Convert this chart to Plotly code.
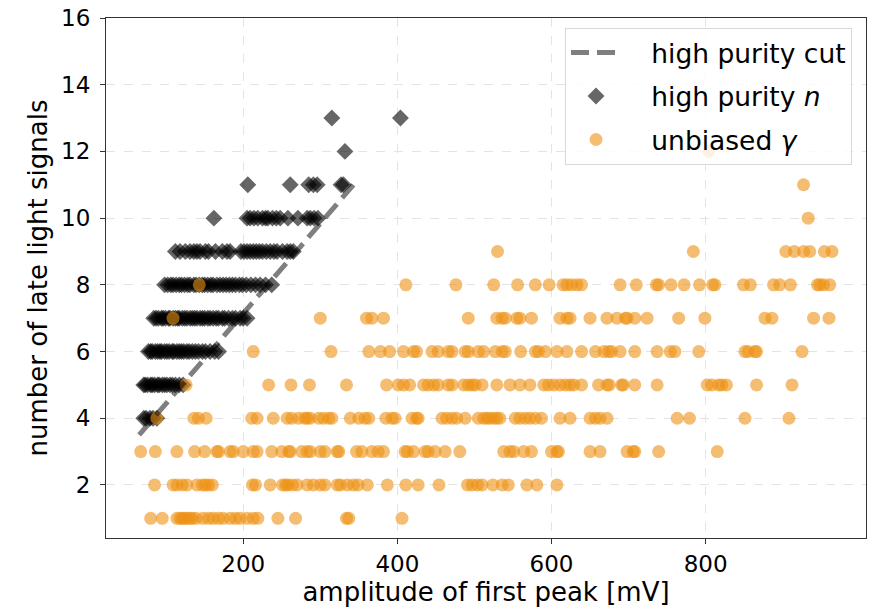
import plotly.graph_objects as go

# Unbiased gamma events: amplitude of first peak [mV], grouped by number of late light signals
gamma_n1 = [80, 95, 114, 118, 121, 124, 127, 131, 134, 139, 148, 155, 161, 168, 174, 183, 190, 196,
            205, 213, 219, 245, 268, 334, 337, 406]
gamma_n2 = [85, 109, 114, 121, 127, 140, 147, 151, 155, 160, 212, 216, 235, 251, 255, 258, 264, 270,
            283, 291, 300, 306, 322, 326, 335, 343, 349, 361, 387, 411, 427, 454, 491, 497, 504, 510,
            524, 536, 544, 568, 581, 607]
gamma_n3 = [67, 86, 114, 137, 150, 166, 168, 183, 187, 200, 213, 218, 237, 250, 259, 261, 276, 283,
            287, 300, 306, 322, 324, 347, 354, 367, 375, 382, 410, 413, 421, 436, 440, 449, 462, 481,
            538, 546, 551, 564, 574, 600, 607, 609, 650, 663, 698, 706, 708, 739, 815]
gamma_n4 = [88, 136, 142, 152, 211, 218, 239, 257, 263, 272, 280, 283, 287, 298, 304, 311, 315, 339,
            350, 358, 363, 385, 393, 397, 419, 425, 427, 458, 464, 471, 477, 488, 505, 512, 516, 520,
            525, 529, 533, 553, 559, 566, 572, 579, 587, 611, 624, 650, 657, 663, 672, 763, 779, 851, 908]
gamma_n5 = [126, 233, 262, 286, 334, 386, 401, 408, 416, 434, 440, 447, 453, 466, 471, 486, 492, 497,
            501, 510, 529, 546, 559, 572, 590, 596, 603, 611, 618, 624, 629, 639, 661, 672, 675, 691,
            693, 708, 737, 802, 808, 817, 821, 827, 866, 912]
gamma_n6 = [213, 314, 363, 378, 390, 408, 421, 425, 445, 453, 466, 471, 488, 492, 505, 512, 527, 536,
            540, 560, 579, 583, 592, 607, 620, 639, 657, 668, 674, 678, 689, 708, 737, 754, 760, 791,
            851, 855, 864, 866, 925]
gamma_n7 = [109, 300, 360, 367, 382, 492, 529, 536, 540, 555, 559, 574, 611, 620, 624, 650, 672, 685,
            696, 698, 708, 724, 765, 799, 877, 886, 940, 960]
gamma_n8 = [143, 411, 476, 525, 556, 579, 597, 615, 620, 626, 633, 639, 689, 710, 736, 739, 755, 772,
            792, 809, 812, 849, 858, 888, 896, 910, 945, 948, 953, 961]
gamma_n9 = [530, 784, 904, 915, 927, 935, 954, 964]
gamma_n10 = [933]
gamma_n11 = [927]
gamma_n12 = [804]

# High purity neutron events
neutron_n4 = [71, 74, 79, 83, 88]
neutron_n5 = [71, 73, 76, 80, 82, 85, 89, 91, 95, 98, 101, 105, 108, 112, 117, 122]
neutron_n6 = [77, 80, 82, 86, 89, 92, 94, 98, 101, 104, 108, 110, 114, 117, 120, 123, 127, 130, 134,
              138, 142, 147, 151, 157, 163, 168]
neutron_n7 = [84, 87, 90, 94, 96, 99, 103, 105, 109, 112, 115, 117, 121, 124, 127, 131, 134, 137, 140,
              144, 147, 150, 154, 157, 161, 165, 168, 173, 176, 181, 186, 190, 196, 200, 205]
neutron_n8 = [98, 102, 106, 109, 113, 117, 120, 124, 128, 131, 136, 139, 143, 147, 150, 154, 158, 161,
              166, 170, 174, 178, 182, 186, 190, 195, 199, 204, 210, 216, 222, 229, 237]
neutron_n9 = [112, 118, 125, 131, 136, 140, 144, 151, 155, 164, 173, 179, 183, 197, 201, 205, 209, 213,
              217, 221, 225, 230, 235, 240, 244, 251, 257, 261, 265]
neutron_n10 = [162, 205, 209, 214, 219, 225, 229, 232, 238, 243, 248, 258, 271, 283, 287, 292, 297]
neutron_n11 = [206, 261, 285, 291, 296, 327, 330]
neutron_n12 = [332]
neutron_n13 = [315, 404]

# High purity cut line end points
cut_amp = [65, 343]
cut_signals = [3.5, 11.0]

x_ticks = [200, 400, 600, 800]
y_ticks = [2, 4, 6, 8, 10, 12, 14, 16]

gamma_rows = [(1, gamma_n1), (2, gamma_n2), (3, gamma_n3), (4, gamma_n4), (5, gamma_n5),
              (6, gamma_n6), (7, gamma_n7), (8, gamma_n8), (9, gamma_n9), (10, gamma_n10),
              (11, gamma_n11), (12, gamma_n12)]
neutron_rows = [(4, neutron_n4), (5, neutron_n5), (6, neutron_n6), (7, neutron_n7), (8, neutron_n8),
                (9, neutron_n9), (10, neutron_n10), (11, neutron_n11), (12, neutron_n12),
                (13, neutron_n13)]


def flatten(rows):
    xs, ys = [], []
    for n, amps in rows:
        xs.extend(amps)
        ys.extend([n] * len(amps))
    return xs, ys


gx, gy = flatten(gamma_rows)
nx, ny = flatten(neutron_rows)

FONT = "DejaVu Sans"
PAD = "&nbsp;&nbsp;&nbsp;"

fig = go.Figure()
fig.add_trace(go.Scatter(
    x=nx, y=ny, mode="markers", name=PAD + "high purity <i>n</i>",
    marker=dict(symbol="diamond", size=13, color="rgba(0,0,0,0.6)", line=dict(width=0)),
    legendrank=2, legendgroup="n",
))
fig.add_trace(go.Scatter(
    x=gx, y=gy, mode="markers", name=PAD + "unbiased <i>γ</i>",
    marker=dict(symbol="circle", size=13, color="rgba(237,145,20,0.6)", line=dict(width=0)),
    legendrank=3, legendgroup="g",
))
fig.add_trace(go.Scatter(
    x=cut_amp, y=cut_signals, mode="lines", name=PAD + "high purity cut",
    line=dict(color="rgba(0,0,0,0.5)", width=5, dash="18px,8px"),
    legendrank=1, legendgroup="c",
))

axis_common = dict(
    showline=True, linecolor="#333333", linewidth=1.2, mirror=True,
    ticks="outside", ticklen=5, tickwidth=1.2, tickcolor="#333333",
    showgrid=True, gridcolor="#e4e4e4", gridwidth=1.3, griddash="dash",
    zeroline=False, tickfont=dict(family=FONT, size=23, color="black"),
)

fig.update_layout(
    width=870, height=610,
    margin=dict(l=106, r=4, t=18, b=72),
    plot_bgcolor="white", paper_bgcolor="white",
    font=dict(family=FONT, color="black"),
    xaxis=dict(range=[22, 1008], tickvals=x_ticks,
               title=dict(text="amplitude of first peak [mV]", font=dict(size=26), standoff=4),
               **axis_common),
    yaxis=dict(range=[0.41, 16], tickvals=y_ticks, ticklabelstandoff=5,
               title=dict(text="number of late light signals", font=dict(size=26), standoff=5),
               **axis_common),
    legend=dict(
        x=0.9816, y=0.981, xanchor="right", yanchor="top",
        bgcolor="rgba(255,255,255,0.8)", bordercolor="#d9d9d9", borderwidth=1,
        font=dict(family=FONT, size=26.5), itemwidth=50, tracegroupgap=6,
        traceorder="grouped",
    ),
)

fig.write_html("out.html")
